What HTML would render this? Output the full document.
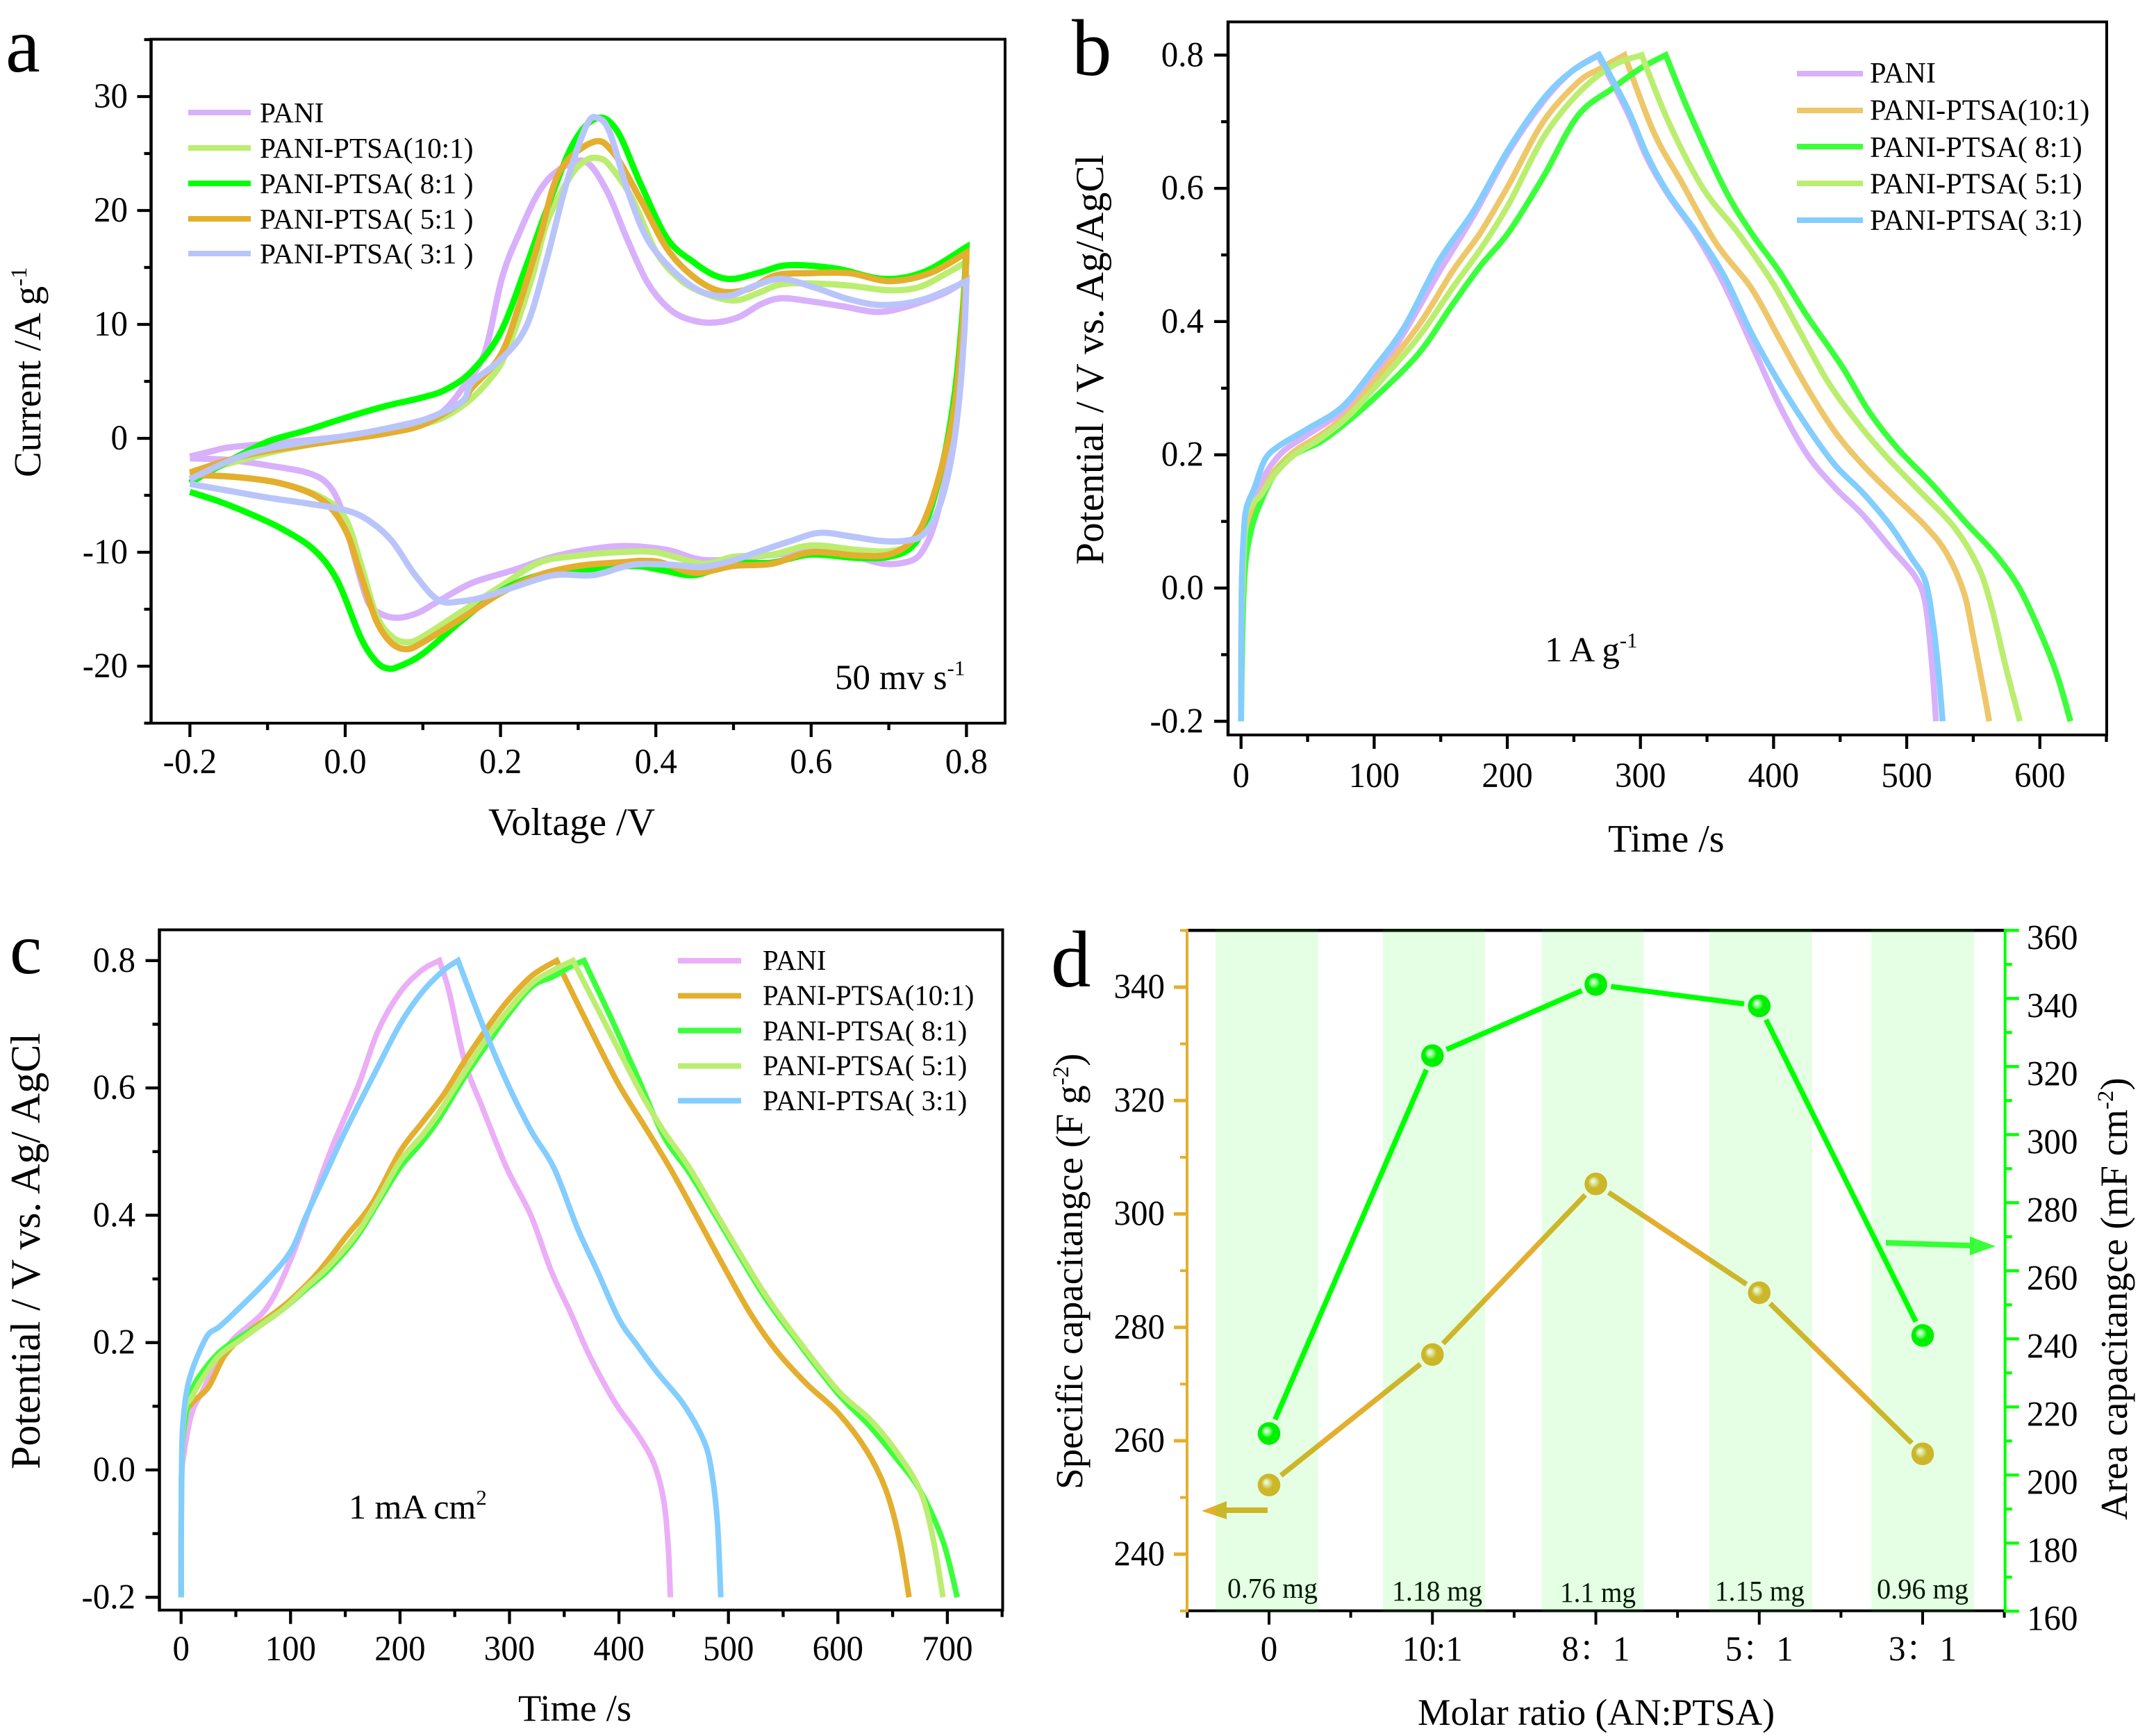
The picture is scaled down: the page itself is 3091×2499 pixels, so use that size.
<!DOCTYPE html>
<html lang="en">
<head>
<meta charset="utf-8">
<title>PANI-PTSA electrochemical characterisation</title>
<style>
html,body{margin:0;padding:0;background:#fff;}
svg{display:block;}
text{font-family:"Liberation Serif","Noto Serif CJK SC",serif;fill:#000;}
</style>
</head>
<body>
<svg id="fig" xmlns="http://www.w3.org/2000/svg" width="3091" height="2499" viewBox="0 0 3091 2499">
<defs>
<radialGradient id="ballOrange" cx="0.5" cy="0.5" r="0.55" fx="0.36" fy="0.36">
<stop offset="0" stop-color="#ffffff"/><stop offset="0.14" stop-color="#fdf3d8"/><stop offset="0.3" stop-color="#f0d48c"/><stop offset="0.48" stop-color="#e4ae2e"/><stop offset="1" stop-color="#e4ae2e"/>
</radialGradient>
<radialGradient id="ballGreen" cx="0.5" cy="0.5" r="0.55" fx="0.36" fy="0.36">
<stop offset="0" stop-color="#ffffff"/><stop offset="0.14" stop-color="#d8ffd8"/><stop offset="0.3" stop-color="#70ff70"/><stop offset="0.48" stop-color="#00f000"/><stop offset="1" stop-color="#00ee00"/>
</radialGradient>
</defs>
<rect width="3091" height="2499" fill="#fff"/>

<g id="panel-a">
  <g id="a-axes"></g>
  <g id="a-series"></g>
  <text x="8" y="103" font-size="112">a</text>
  <text transform="translate(58 687) rotate(-90)" font-size="55">Current /A g<tspan dy="-20" font-size="33">-1</tspan></text>
  <text x="703" y="1202" font-size="56">Voltage /V</text>
  <text x="1202" y="992" font-size="51">50 mv s<tspan dy="-20" font-size="31">-1</tspan></text>
  <g>
    <rect x="271" y="158" width="90" height="8" fill="#D8B0FB"/>
    <text x="374" y="176" font-size="41.2">PANI</text>
    <rect x="271" y="209" width="90" height="8" fill="#BBEE70"/>
    <text x="374" y="227" font-size="41.2">PANI-PTSA(10:1)</text>
    <rect x="271" y="260" width="90" height="8" fill="#00FF00"/>
    <text x="374" y="278" font-size="41.2">PANI-PTSA( 8:1 )</text>
    <rect x="271" y="311" width="90" height="8" fill="#E4AE2E"/>
    <text x="374" y="329" font-size="41.2">PANI-PTSA( 5:1 )</text>
    <rect x="271" y="361" width="90" height="8" fill="#B9C5FA"/>
    <text x="374" y="379" font-size="41.2">PANI-PTSA( 3:1 )</text>
  </g>
</g>

<g id="panel-b">
  <g id="b-axes"></g>
  <g id="b-series"></g>
  <text x="1543" y="108" font-size="115">b</text>
  <text transform="translate(1588 813) rotate(-90)" font-size="57.5">Potential / V vs. Ag/AgCl</text>
  <text x="2315" y="1226" font-size="56">Time /s</text>
  <text x="2224" y="952" font-size="51">1 A g<tspan dy="-20" font-size="31">-1</tspan></text>
  <g>
    <rect x="2587" y="102" width="95" height="8" fill="#D8B0FB"/>
    <text x="2692" y="119" font-size="42.4">PANI</text>
    <rect x="2587" y="155" width="95" height="8" fill="#EEC76B"/>
    <text x="2692" y="172.5" font-size="42.4">PANI-PTSA(10:1)</text>
    <rect x="2587" y="207" width="95" height="8" fill="#3CFF3C"/>
    <text x="2692" y="226" font-size="42.4">PANI-PTSA( 8:1)</text>
    <rect x="2587" y="260" width="95" height="8" fill="#BBEE70"/>
    <text x="2692" y="278.5" font-size="42.4">PANI-PTSA( 5:1)</text>
    <rect x="2587" y="313" width="95" height="8" fill="#83CDFF"/>
    <text x="2692" y="331" font-size="42.4">PANI-PTSA( 3:1)</text>
  </g>
</g>

<g id="panel-c">
  <g id="c-axes"></g>
  <g id="c-series"></g>
  <text x="14" y="1401" font-size="104">c</text>
  <text transform="translate(57 2115) rotate(-90)" font-size="60">Potential / V vs. Ag/ AgCl</text>
  <text x="746" y="2477" font-size="54.5">Time /s</text>
  <text x="502" y="2186" font-size="50">1 mA cm<tspan dy="-20" font-size="31">2</tspan></text>
  <g>
    <rect x="976" y="1379" width="91" height="8" fill="#EBAEF7"/>
    <text x="1098" y="1396" font-size="40.8">PANI</text>
    <rect x="976" y="1429.5" width="91" height="8" fill="#E4AE2E"/>
    <text x="1098" y="1446.5" font-size="40.8">PANI-PTSA(10:1)</text>
    <rect x="976" y="1479.5" width="91" height="8" fill="#3CFF3C"/>
    <text x="1098" y="1497.5" font-size="40.8">PANI-PTSA( 8:1)</text>
    <rect x="976" y="1530.5" width="91" height="8" fill="#BBEE70"/>
    <text x="1098" y="1547.5" font-size="40.8">PANI-PTSA( 5:1)</text>
    <rect x="976" y="1580.5" width="91" height="8" fill="#83CDFF"/>
    <text x="1098" y="1598" font-size="40.8">PANI-PTSA( 3:1)</text>
  </g>
</g>

<g id="panel-d">
  <g id="d-axes"></g>
  <g id="d-series"></g>
  <text x="1513" y="1420" font-size="115">d</text>
  <text transform="translate(1558 2144) rotate(-90)" font-size="55">Specific capacitangce (F g<tspan dy="-20" font-size="33">-2</tspan><tspan dy="20">)</tspan></text>
  <text transform="translate(3062 2188) rotate(-90)" font-size="55">Area capacitangce (mF cm<tspan dy="-20" font-size="33">-2</tspan><tspan dy="20">)</tspan></text>
  <text x="2041" y="2483" font-size="53.5">Molar ratio (AN:PTSA)</text>
  <g>
    <rect x="1766" y="2170" width="59" height="8" fill="#E4AE2E"/>
    <polygon points="1730,2175 1766,2161 1766,2187" fill="#E4AE2E"/>
  </g>
  <g>
    <polygon points="2715,1785 2836,1789 2836,1797 2715,1793" fill="#3CFF3C"/>
    <polygon points="2873,1794 2836,1780 2836,1807" fill="#3CFF3C"/>
  </g>
  <g>
    <text x="1767" y="2300" font-size="41" textLength="130" lengthAdjust="spacingAndGlyphs">0.76 mg</text>
    <text x="2004" y="2304" font-size="41" textLength="130" lengthAdjust="spacingAndGlyphs">1.18 mg</text>
    <text x="2246" y="2306" font-size="41" textLength="109" lengthAdjust="spacingAndGlyphs">1.1 mg</text>
    <text x="2469" y="2304" font-size="41" textLength="129" lengthAdjust="spacingAndGlyphs">1.15 mg</text>
    <text x="2702" y="2301" font-size="41" textLength="132" lengthAdjust="spacingAndGlyphs">0.96 mg</text>
  </g>
  <g fill="#00ff00" fill-opacity="0.1">
    <rect x="1750" y="1337" width="148" height="983"/>
    <rect x="1991" y="1337" width="147" height="983"/>
    <rect x="2219.5" y="1337" width="147" height="983"/>
    <rect x="2461" y="1337" width="148" height="983"/>
    <rect x="2694" y="1337" width="148" height="983"/>
  </g>
</g>
</svg>

<script>
// ---------- Panel a: cyclic voltammetry (voltage V, current A/g) ----------
const aPani = [[-0.2,-1.6],[-0.17,-1.1],[-0.15,-0.8],[-0.097,-0.45],[0,0.2],[0.1,1.6],[0.128,2.5],[0.155,4.8],[0.18,7.6],[0.202,14.1],[0.224,18],[0.25,21.7],[0.276,23.6],[0.309,24.3],[0.337,21.7],[0.363,17.5],[0.389,13.7],[0.415,11.5],[0.44,10.5],[0.471,10.15],[0.505,10.6],[0.536,11.8],[0.562,12.3],[0.597,12.05],[0.64,11.6],[0.684,11.1],[0.72,11.5],[0.77,12.7],[0.8,13.9],[0.797,9.3],[0.788,2],[0.775,-2.9],[0.758,-7.7],[0.74,-10.2],[0.72,-10.9],[0.693,-11],[0.658,-10.4],[0.615,-9.8],[0.555,-10.2],[0.467,-10.7],[0.415,-9.8],[0.363,-9.45],[0.319,-9.7],[0.267,-10.4],[0.215,-11.6],[0.163,-12.7],[0.12,-14.3],[0.094,-15.3],[0.068,-15.75],[0.046,-15.4],[0.029,-14.3],[0.011,-10.2],[-0.002,-6.8],[-0.019,-4.3],[-0.045,-3.1],[-0.097,-2.4],[-0.15,-1.9],[-0.2,-1.75]];
const a10to1 = [[-0.2,-3.2],[-0.1,-1.3],[0,0],[0.1,1.2],[0.15,2.8],[0.19,5.5],[0.21,8],[0.24,14],[0.26,19],[0.29,23],[0.31,24.4],[0.325,24.6],[0.34,24],[0.37,21],[0.4,16.4],[0.43,14],[0.46,12.8],[0.5,12.1],[0.53,12.7],[0.56,13.5],[0.6,13.6],[0.65,13.4],[0.7,13],[0.74,13.3],[0.78,14.7],[0.8,15.5],[0.795,10],[0.785,3],[0.77,-2],[0.75,-7],[0.73,-9.2],[0.7,-9.9],[0.66,-9.8],[0.6,-9.4],[0.55,-10.2],[0.5,-10.4],[0.46,-11],[0.4,-10],[0.35,-10],[0.3,-10.3],[0.25,-10.9],[0.2,-13],[0.15,-15.2],[0.1,-17.4],[0.08,-17.9],[0.06,-17.4],[0.04,-15.5],[0.02,-11],[0,-7],[-0.03,-5.2],[-0.08,-4],[-0.14,-3.4],[-0.2,-3.2]];
const a8to1 = [[-0.2,-3.9],[-0.15,-2],[-0.1,-0.3],[-0.05,0.7],[0,1.8],[0.05,2.8],[0.1,3.6],[0.13,4.3],[0.163,5.9],[0.2,9.3],[0.233,15.1],[0.259,20],[0.293,25.8],[0.324,28.1],[0.35,27],[0.38,22.4],[0.415,17.5],[0.45,15.4],[0.476,14.3],[0.5,14],[0.536,14.6],[0.571,15.2],[0.632,14.9],[0.693,14],[0.745,14.6],[0.8,16.8],[0.795,11],[0.785,4],[0.77,-2],[0.75,-7],[0.73,-9.5],[0.7,-10.4],[0.66,-10.5],[0.6,-10.2],[0.55,-10.9],[0.5,-11],[0.45,-12],[0.41,-11.6],[0.37,-11.2],[0.3,-11.6],[0.25,-12],[0.2,-13.4],[0.15,-16],[0.1,-18.9],[0.07,-20],[0.055,-20.2],[0.04,-19.6],[0.02,-17.5],[-0.01,-12.5],[-0.04,-9.8],[-0.08,-8],[-0.12,-6.7],[-0.16,-5.6],[-0.2,-4.7]];
const a5to1 = [[-0.2,-3],[-0.15,-1.9],[-0.1,-1.1],[0,-0.1],[0.05,0.4],[0.1,1.2],[0.15,3.2],[0.163,4.4],[0.2,7.3],[0.224,11.7],[0.25,17.5],[0.276,23.4],[0.319,26],[0.345,25.1],[0.38,21],[0.415,16.6],[0.45,14.1],[0.484,12.9],[0.519,13.1],[0.554,14.3],[0.597,14.5],[0.649,14.5],[0.701,13.8],[0.753,14.5],[0.8,16.3],[0.795,10],[0.785,3],[0.77,-2],[0.75,-6.5],[0.73,-9],[0.7,-10.2],[0.66,-10.3],[0.6,-10],[0.55,-11],[0.5,-11.2],[0.45,-11.8],[0.4,-10.8],[0.35,-10.9],[0.3,-11.2],[0.25,-12],[0.2,-13.6],[0.15,-15.8],[0.1,-17.9],[0.08,-18.5],[0.06,-18],[0.04,-16],[0.02,-12],[0,-8],[-0.03,-5.4],[-0.08,-4],[-0.14,-3.4],[-0.2,-3.2]];
const a3to1 = [[-0.2,-3.6],[-0.15,-2],[-0.1,-0.9],[0,0.2],[0.05,0.8],[0.1,1.6],[0.15,3.2],[0.163,4.9],[0.2,6.9],[0.233,9.8],[0.259,15.6],[0.285,22.4],[0.311,27.5],[0.326,28.1],[0.341,26.8],[0.363,21.9],[0.389,17.5],[0.424,14.6],[0.458,12.9],[0.493,12.5],[0.528,13.4],[0.562,14],[0.606,13.2],[0.649,12.2],[0.693,11.7],[0.745,12.2],[0.8,13.8],[0.797,9],[0.79,3],[0.78,-2],[0.765,-6],[0.745,-8.4],[0.72,-9],[0.69,-9],[0.65,-8.6],[0.61,-8.3],[0.57,-9.1],[0.53,-10],[0.5,-10.7],[0.46,-11.3],[0.42,-11.1],[0.37,-11.1],[0.32,-12],[0.27,-12],[0.22,-13],[0.18,-13.9],[0.15,-14.3],[0.12,-14.2],[0.09,-12],[0.06,-9],[0.03,-7.2],[0,-6.3],[-0.05,-5.7],[-0.1,-5.2],[-0.15,-4.6],[-0.2,-4]];
const aXMajor = [-0.2,0,0.2,0.4,0.6,0.8];
const aXMinor = [-0.1,0.1,0.3,0.5,0.7];
const aYMajor = [-20,-10,0,10,20,30];
const aYMinor = [-25,-15,-5,5,15,25,35];

// ---------- Panel b: charge/discharge at 1 A/g (time s, potential V) ----------
const bPani = [[0,-0.2],[0.5,0],[2,0.05],[5,0.1],[13,0.151],[29,0.2],[50,0.23],[76,0.265],[100,0.315],[123,0.385],[149,0.475],[175,0.56],[201,0.655],[227,0.73],[248,0.775],[268,0.8],[290,0.715],[305,0.645],[321,0.59],[342,0.53],[363,0.455],[383,0.368],[404,0.276],[425,0.201],[446,0.151],[467,0.11],[488,0.06],[506,0.018],[514,-0.023],[519,-0.115],[522,-0.2]];
const b10to1 = [[0,-0.2],[0.5,0],[3,0.08],[8,0.11],[15,0.14],[25,0.175],[40,0.205],[60,0.23],[80,0.262],[100,0.31],[133,0.393],[159,0.476],[180,0.534],[201,0.605],[227,0.7],[253,0.759],[270,0.78],[288,0.8],[310,0.684],[331,0.609],[357,0.517],[383,0.451],[404,0.376],[425,0.301],[446,0.235],[467,0.185],[488,0.143],[514,0.093],[530,0.052],[543,-0.007],[550,-0.073],[558,-0.156],[562,-0.2]];
const b8to1 = [[0,-0.2],[1,-0.07],[3,0.03],[8,0.09],[15,0.13],[25,0.17],[40,0.2],[60,0.22],[80,0.25],[100,0.285],[133,0.351],[159,0.426],[180,0.484],[201,0.534],[227,0.617],[253,0.709],[279,0.75],[300,0.78],[319,0.8],[336,0.717],[363,0.6],[383,0.534],[404,0.476],[425,0.409],[451,0.334],[472,0.264],[493,0.21],[519,0.156],[545,0.097],[566,0.052],[584,0.002],[600,-0.065],[613,-0.131],[623,-0.2]];
const b5to1 = [[0,-0.2],[0.5,-0.05],[3,0.09],[6,0.12],[15,0.14],[25,0.17],[40,0.2],[60,0.225],[80,0.257],[100,0.3],[133,0.376],[159,0.451],[180,0.509],[201,0.576],[227,0.676],[253,0.742],[279,0.784],[301,0.8],[321,0.7],[347,0.6],[373,0.534],[399,0.459],[420,0.384],[441,0.309],[462,0.251],[483,0.201],[509,0.147],[535,0.093],[553,0.035],[563,-0.023],[574,-0.115],[585,-0.2]];
const b3to1 = [[0,-0.2],[0.5,0],[2,0.08],[4,0.12],[10,0.15],[18,0.193],[29,0.214],[50,0.239],[76,0.272],[100,0.33],[123,0.393],[149,0.492],[175,0.567],[201,0.659],[227,0.734],[248,0.775],[269,0.8],[290,0.721],[305,0.65],[321,0.592],[342,0.534],[363,0.468],[383,0.384],[404,0.309],[425,0.243],[446,0.185],[467,0.143],[488,0.093],[503,0.047],[514,0.01],[520,-0.057],[524,-0.13],[527,-0.2]];
const bXMajor = [0,100,200,300,400,500,600];
const bXMinor = [50,150,250,350,450,550,650];
const bYMajor = [-0.2,0,0.2,0.4,0.6,0.8];
const bYMinor = [-0.1,0.1,0.3,0.5,0.7];

// ---------- Panel c: charge/discharge at 1 mA/cm2 (time s, potential V) ----------
const cPani = [[0,-0.2],[0.5,-0.02],[3,0.03],[10,0.09],[20,0.125],[30,0.16],[47,0.204],[78,0.254],[100,0.33],[120,0.423],[138,0.507],[162,0.604],[180,0.69],[200,0.75],[220,0.785],[236,0.8],[245,0.75],[259,0.642],[275,0.57],[290,0.505],[300,0.465],[320,0.398],[338,0.313],[356,0.246],[371,0.187],[385,0.14],[399,0.099],[417,0.056],[432,0.01],[441,-0.049],[445,-0.12],[447,-0.2]];
const c10to1 = [[0,-0.2],[0.5,0],[3,0.08],[10,0.105],[25,0.13],[40,0.18],[60,0.215],[80,0.24],[100,0.267],[125,0.31],[150,0.365],[175,0.42],[200,0.5],[220,0.545],[240,0.59],[260,0.645],[282,0.7],[300,0.74],[321,0.777],[343,0.8],[369,0.709],[399,0.608],[423,0.541],[447,0.473],[471,0.398],[495,0.322],[520,0.246],[544,0.187],[571,0.136],[600,0.09],[626,0.031],[644,-0.032],[656,-0.108],[665,-0.2]];
const c8to1 = [[0,-0.2],[0.5,0],[3,0.07],[10,0.125],[20,0.155],[35,0.185],[55,0.21],[75,0.23],[95,0.255],[115,0.285],[135,0.315],[160,0.365],[180,0.42],[200,0.475],[220,0.515],[235,0.55],[259,0.617],[280,0.67],[300,0.718],[321,0.76],[340,0.775],[355,0.79],[368,0.8],[393,0.709],[417,0.617],[441,0.524],[465,0.465],[495,0.38],[532,0.275],[562,0.204],[600,0.12],[629,0.069],[653,0.019],[675,-0.032],[696,-0.112],[709,-0.2]];
const c5to1 = [[0,-0.2],[0.5,0],[3,0.09],[10,0.115],[20,0.145],[35,0.18],[55,0.205],[75,0.23],[95,0.255],[115,0.288],[135,0.32],[160,0.37],[180,0.425],[200,0.485],[220,0.525],[235,0.56],[259,0.625],[280,0.68],[300,0.725],[321,0.765],[340,0.785],[358,0.8],[380,0.726],[405,0.642],[423,0.583],[441,0.532],[465,0.473],[495,0.385],[532,0.28],[562,0.208],[600,0.125],[629,0.08],[653,0.03],[675,-0.032],[687,-0.108],[696,-0.2]];
const c3to1 = [[0,-0.2],[0.5,0],[2,0.08],[8,0.145],[23,0.208],[35,0.225],[53,0.254],[78,0.297],[100,0.343],[114,0.398],[132,0.465],[150,0.532],[175,0.617],[200,0.7],[220,0.75],[240,0.785],[253,0.8],[277,0.692],[300,0.6],[320,0.532],[341,0.473],[362,0.38],[380,0.313],[400,0.237],[417,0.195],[435,0.153],[459,0.103],[478,0.044],[485,-0.007],[490,-0.083],[493,-0.2]];
const cXMajor = [0,100,200,300,400,500,600,700];
const cXMinor = [50,150,250,350,450,550,650,750];
const cYMajor = [-0.2,0,0.2,0.4,0.6,0.8];
const cYMinor = [-0.1,0.1,0.3,0.5,0.7];

// ---------- Panel d: capacitance vs molar ratio ----------
const dCategories = ["0","10:1","8：1","5：1","3：1"];
const dSpecific = [252.2,275.2,305.3,286.1,257.7];
const dArea = [212.2,323.2,344.1,337.8,241];
const dLeftMajor = [240,260,280,300,320,340];
const dLeftMinor = [230,250,270,290,310,330,350];
const dRightMajor = [160,180,200,220,240,260,280,300,320,340,360];
const dRightMinor = [170,190,210,230,250,270,290,310,330,350];

// ---------- Axis functions ----------
const aX = v => 497 + 1118 * v;
const aY = v => 631 - 16.4 * v;
const bX = v => 1786.7 + 1.9167 * v;
const bY = v => 79.3 + (0.8 - v) * 959;
const cX = v => 260.7 + 1.576 * v;
const cY = v => 2116 - 916.5 * v;
const dX = i => 1827 + 235.25 * i;
const dYL = v => 2237.3 - (v - 240) * 8.163;
const dYR = v => 1339.3 + (360 - v) * 4.9;

const NS = 'http://www.w3.org/2000/svg';
function node(tag, parent, name, props) {
  const el = document.createElementNS(NS, tag);
  
  
  for (const k in props) el.setAttribute(k, props[k]);
  parent.appendChild(el);
  return el;
}
function hLine(parent, name, x1, x2, y, color, w) {
  return node('line', parent, name, {x1:x1, x2:x2, y1:y, y2:y, stroke:color, 'stroke-width':w});
}
function vLine(parent, name, x, y1, y2, color, w) {
  return node('line', parent, name, {x1:x, x2:x, y1:y1, y2:y2, stroke:color, 'stroke-width':w});
}
function label(parent, name, x, y, str, anchor, size, sx) {
  const t = node('text', parent, name, {
    transform:'translate(' + x + ' ' + y + ') scale(' + sx + ' 1)',
    'text-anchor':anchor, 'font-size':size
  });
  t.textContent = str;
  return t;
}
function catmull(pts) {
  let d = 'L' + pts[0][0].toFixed(1) + ' ' + pts[0][1].toFixed(1);
  for (let i = 0; i < pts.length - 1; i++) {
    const p0 = pts[Math.max(i - 1, 0)], p1 = pts[i], p2 = pts[i + 1], p3 = pts[Math.min(i + 2, pts.length - 1)];
    const c1x = p1[0] + (p2[0] - p0[0]) / 6, c1y = p1[1] + (p2[1] - p0[1]) / 6;
    const c2x = p2[0] - (p3[0] - p1[0]) / 6, c2y = p2[1] - (p3[1] - p1[1]) / 6;
    d += 'C' + c1x.toFixed(1) + ' ' + c1y.toFixed(1) + ' ' + c2x.toFixed(1) + ' ' + c2y.toFixed(1) + ' ' + p2[0].toFixed(1) + ' ' + p2[1].toFixed(1);
  }
  return d;
}
function curve(parent, name, data, X, Y, color, w, splitOnX) {
  let tip = 0;
  data.forEach((p, i) => { const k = splitOnX ? 0 : 1; if (p[k] > data[tip][k]) tip = i; });
  const pts = data.map(p => [X(p[0]), Y(p[1])]);
  const d = 'M' + pts[0][0].toFixed(1) + ' ' + pts[0][1].toFixed(1) + catmull(pts.slice(0, tip + 1)) + catmull(pts.slice(tip));
  node('path', parent, name, {d:d, fill:'none', stroke:color, 'stroke-width':w, 'stroke-linejoin':'miter', 'stroke-miterlimit':3, 'stroke-linecap':'butt'});
}
function frameAxes(p) {
  const g = document.getElementById(p.id + '-axes');
  hLine(g, p.id + '-frame-top', p.left - 2, p.right + 2, p.top, '#000', 4);
  hLine(g, p.id + '-frame-bottom', p.left - 2, p.right + 2, p.bottom, '#000', 4);
  vLine(g, p.id + '-frame-left', p.left, p.top - 2, p.bottom + 2, '#000', 4.5);
  vLine(g, p.id + '-frame-right', p.right, p.top - 2, p.bottom + 2, '#000', 4);
  p.xMajor.forEach(v => {
    vLine(g, p.id + '-x-tick', p.X(v), p.bottom, p.bottom + 20, '#000', 4.3);
    label(g, p.id + '-x-tick-label', p.X(v), p.xBase, p.xFmt(v), 'middle', 51, 0.96);
  });
  p.xMinor.forEach(v => vLine(g, p.id + '-x-minor-tick', p.X(v), p.bottom, p.bottom + 10, '#000', 4.3));
  p.yMajor.forEach(v => {
    hLine(g, p.id + '-y-tick', p.left - 20, p.left, p.Y(v), '#000', 4.3);
    label(g, p.id + '-y-tick-label', p.yEnd, p.Y(v) + 16, p.yFmt(v), 'end', 51, 0.96);
  });
  p.yMinor.forEach(v => hLine(g, p.id + '-y-minor-tick', p.left - 10, p.left, p.Y(v), '#000', 4.3));
}
const fix1 = v => v.toFixed(1);
const plain = v => String(v);

frameAxes({id:'a', left:217.5, right:1447, top:56.5, bottom:1041, X:aX, Y:aY, xMajor:aXMajor, xMinor:aXMinor, yMajor:aYMajor, yMinor:aYMinor, xBase:1113, yEnd:184, xFmt:fix1, yFmt:plain});
frameAxes({id:'b', left:1768, right:3033, top:31.5, bottom:1058, X:bX, Y:bY, xMajor:bXMajor, xMinor:bXMinor, yMajor:bYMajor, yMinor:bYMinor, xBase:1133, yEnd:1733, xFmt:plain, yFmt:fix1});
frameAxes({id:'c', left:229.5, right:1443.5, top:1338.5, bottom:2317.7, X:cX, Y:cY, xMajor:cXMajor, xMinor:cXMinor, yMajor:cYMajor, yMinor:cYMinor, xBase:2390, yEnd:195, xFmt:plain, yFmt:fix1});

// Series, panel a
const aG = document.getElementById('a-series');
curve(aG, 'a-curve-pani', aPani, aX, aY, '#D8B0FB', 9, true);
curve(aG, 'a-curve-10-1', a10to1, aX, aY, '#BBEE70', 9, true);
curve(aG, 'a-curve-8-1', a8to1, aX, aY, '#00FF00', 9, true);
curve(aG, 'a-curve-5-1', a5to1, aX, aY, '#E4AE2E', 9, true);
curve(aG, 'a-curve-3-1', a3to1, aX, aY, '#B9C5FA', 9, true);

// Series, panel b
const bG = document.getElementById('b-series');
curve(bG, 'b-curve-pani', bPani, bX, bY, '#D8B0FB', 8.5, false);
curve(bG, 'b-curve-10-1', b10to1, bX, bY, '#EEC76B', 8.5, false);
curve(bG, 'b-curve-8-1', b8to1, bX, bY, '#3CFF3C', 8.5, false);
curve(bG, 'b-curve-5-1', b5to1, bX, bY, '#BBEE70', 8.5, false);
curve(bG, 'b-curve-3-1', b3to1, bX, bY, '#83CDFF', 8.5, false);

// Series, panel c
const cG = document.getElementById('c-series');
curve(cG, 'c-curve-pani', cPani, cX, cY, '#EBAEF7', 8, false);
curve(cG, 'c-curve-10-1', c10to1, cX, cY, '#E4AE2E', 8, false);
curve(cG, 'c-curve-8-1', c8to1, cX, cY, '#3CFF3C', 8, false);
curve(cG, 'c-curve-5-1', c5to1, cX, cY, '#BBEE70', 8, false);
curve(cG, 'c-curve-3-1', c3to1, cX, cY, '#83CDFF', 8, false);

// Panel d axes
const dAx = document.getElementById('d-axes');
const dLeft = 1709, dRight = 2886.7, dTop = 1339.3, dBottom = 2318.7;
hLine(dAx, 'd-frame-top', dLeft, dRight, dTop, '#000', 4.5);
hLine(dAx, 'd-x-axis', dLeft, dRight, dBottom, '#000', 4);
dCategories.forEach((c, i) => {
  vLine(dAx, 'd-x-tick', dX(i), dBottom, dBottom + 20, '#000', 4);
  label(dAx, 'd-x-tick-label', dX(i), 2390.7, c, 'middle', 51, 0.96);
});
dCategories.slice(0, -1).forEach((c, i) => vLine(dAx, 'd-x-minor-tick', dX(i + 0.5), dBottom, dBottom + 10, '#000', 4));
vLine(dAx, 'd-x-minor-tick', dX(-0.5), dBottom, dBottom + 10, '#000', 4);
vLine(dAx, 'd-x-minor-tick', dX(4.5), dBottom, dBottom + 10, '#000', 4);
vLine(dAx, 'd-left-axis', dLeft, dTop - 2, dBottom + 2, '#E4AE2E', 4);
vLine(dAx, 'd-right-axis', dRight, dTop - 2, dBottom + 2, '#00FF00', 4);
dLeftMajor.forEach(v => {
  hLine(dAx, 'd-left-tick', dLeft - 19, dLeft, dYL(v), '#E4AE2E', 5);
  label(dAx, 'd-left-tick-label', 1677, dYL(v) + 16, String(v), 'end', 51, 0.96);
});
dLeftMinor.forEach(v => hLine(dAx, 'd-left-minor-tick', dLeft - 10, dLeft, dYL(v), '#E4AE2E', 4));
dRightMajor.forEach(v => {
  hLine(dAx, 'd-right-tick', dRight, dRight + 20, dYR(v), '#00FF00', 4.3);
  label(dAx, 'd-right-tick-label', 2918, dYR(v) + 27, String(v), 'start', 51, 0.96);
});
dRightMinor.forEach(v => hLine(dAx, 'd-right-minor-tick', dRight, dRight + 10, dYR(v), '#00FF00', 4.3));

// Panel d series: line segments stop short of each marker
const dG = document.getElementById('d-series');
function markerSeries(values, Y, color, grad, key) {
  const pts = values.map((v, i) => [dX(i), Y(v)]);
  for (let i = 0; i < pts.length - 1; i++) {
    const dx = pts[i + 1][0] - pts[i][0], dy = pts[i + 1][1] - pts[i][1], L = Math.hypot(dx, dy);
    const ux = dx / L, uy = dy / L, gap = 22;
    node('line', dG, key + '-segment', {
      x1:pts[i][0] + ux * gap, y1:pts[i][1] + uy * gap,
      x2:pts[i + 1][0] - ux * gap, y2:pts[i + 1][1] - uy * gap,
      stroke:color, 'stroke-width':7.5
    });
  }
  pts.forEach(p => node('circle', dG, key + '-marker', {cx:p[0], cy:p[1], r:16.3, fill:'url(#' + grad + ')'}));
}
markerSeries(dSpecific, dYL, '#E4AE2E', 'ballOrange', 'specific-capacitance');
markerSeries(dArea, dYR, '#00FF00', 'ballGreen', 'area-capacitance');
</script>
</body>
</html>
